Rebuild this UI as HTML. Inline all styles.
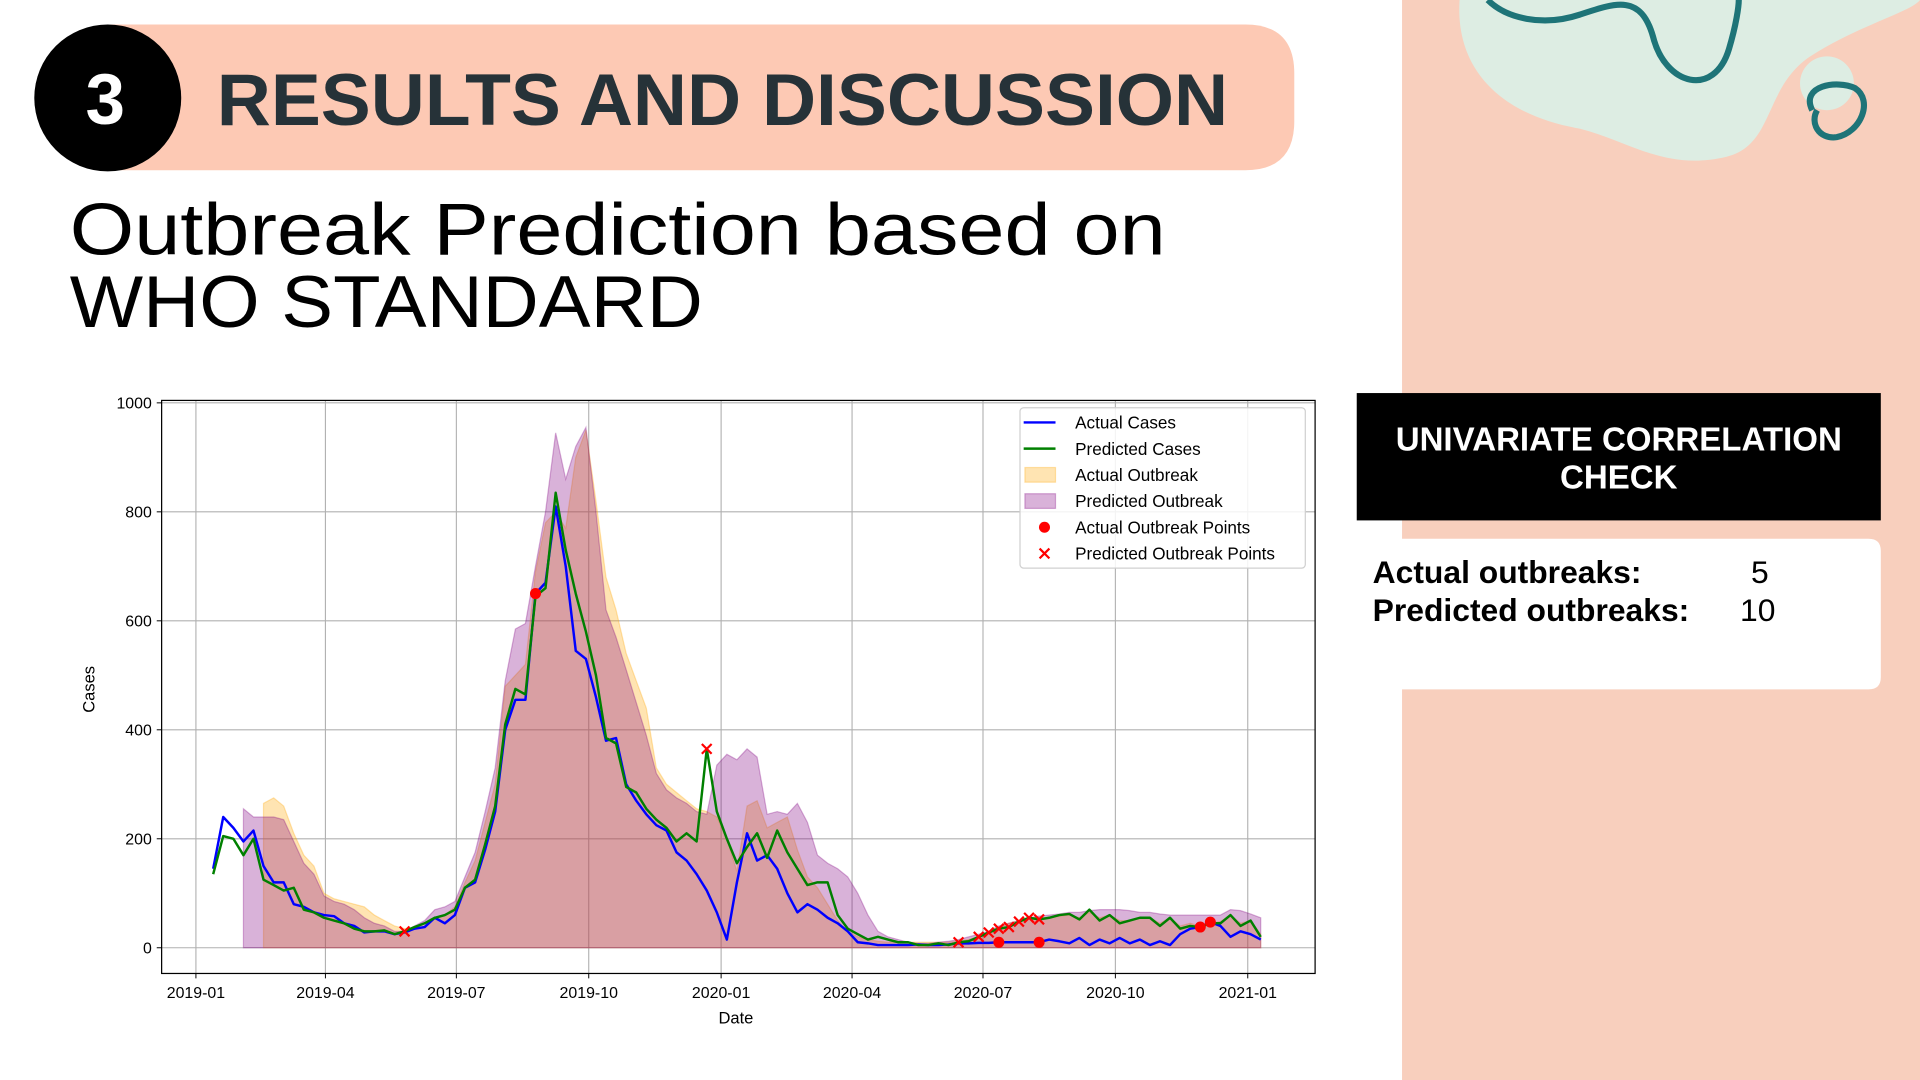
<!DOCTYPE html>
<html><head><meta charset="utf-8"><style>
html,body{margin:0;padding:0;background:#fff;overflow:hidden}
svg{display:block}
text{font-family:"Liberation Sans",sans-serif}
</style></head><body>
<svg id="slide" width="1920" height="1080" viewBox="0 0 1568 882" preserveAspectRatio="none" xmlns="http://www.w3.org/2000/svg">
<rect width="1568" height="882" fill="#ffffff"/>
<g>
<rect x="1145" y="0" width="423" height="882" fill="#f8cfbd"/>
<path d="M1192 0 C1188 60 1230 95 1290 105 C1330 115 1360 140 1410 128 C1450 118 1440 70 1480 45 C1520 20 1560 10 1568 0 Z" fill="#ddede3"/>
<circle cx="1492" cy="68" r="22" fill="#ddede3"/>
<path d="M1215 0 C1230 15 1260 22 1290 12 C1320 2 1340 -5 1350 30 C1360 70 1400 80 1412 40 C1418 20 1420 5 1420 0" fill="none" stroke="#1e7478" stroke-width="5"/>
<path d="M1480 90 C1470 70 1500 65 1515 72 C1530 82 1520 108 1500 112 C1485 114 1478 100 1484 90" fill="none" stroke="#1e7478" stroke-width="5"/>
<rect x="1108" y="321" width="428" height="104" fill="#000"/>
<text x="1322" y="368" text-anchor="middle" fill="#fff" font-size="27" font-weight="bold">UNIVARIATE CORRELATION</text>
<text x="1322" y="399" text-anchor="middle" fill="#fff" font-size="27" font-weight="bold">CHECK</text>
<path d="M1108 440 H1526 Q1536 440 1536 450 V553 Q1536 563 1526 563 H1108 Z" fill="#fff"/>
<text x="1121" y="476" font-size="26" font-weight="bold" fill="#000">Actual outbreaks:</text>
<text x="1430" y="476" font-size="26" fill="#000">5</text>
<text x="1121" y="507" font-size="26" font-weight="bold" fill="#000">Predicted outbreaks:</text>
<text x="1421" y="507" font-size="26" fill="#000">10</text>
</g>
<g>
<path d="M90 20 H1017 Q1057 20 1057 60 V99 Q1057 139 1017 139 H90 Z" fill="#fdc9b4"/>
<circle cx="88" cy="80" r="60" fill="#000"/>
<text x="86" y="101" text-anchor="middle" fill="#fff" font-size="58" font-weight="bold">3</text>
<text x="177" y="102" fill="#263238" font-size="60" font-weight="bold" textLength="826" lengthAdjust="spacingAndGlyphs">RESULTS AND DISCUSSION</text>
</g>
<text x="57" y="208" fill="#000" font-size="60" textLength="895" lengthAdjust="spacingAndGlyphs">Outbreak Prediction based on</text>
<text x="57" y="267" fill="#000" font-size="60" textLength="517" lengthAdjust="spacingAndGlyphs">WHO STANDARD</text>
<g id="chart"></g>
</svg>
<script>
const actualCases=[145,240,220,195,215,150,120,120,80,75,65,60,58,45,40,28,30,30,25,28,35,38,55,45,60,110,120,180,250,400,455,455,650,670,810,700,545,530,460,380,385,300,270,245,225,215,175,160,135,105,65,15,120,210,160,170,145,100,65,80,70,55,45,30,10,8,5,5,5,5,6,5,5,6,8,8,9,9,10,10,10,10,10,15,12,8,18,5,15,8,18,8,15,5,12,5,25,35,38,47,40,20,30,25,15];
const predictedCases=[135,205,200,170,200,125,115,105,110,70,65,55,50,45,35,30,30,32,25,30,38,45,55,60,70,110,125,190,260,410,475,465,645,660,835,730,650,580,500,385,375,295,285,255,235,220,195,210,195,365,250,200,155,185,210,165,215,175,145,115,120,120,60,35,25,15,20,15,10,10,5,5,8,5,10,12,20,28,35,38,48,55,52,55,60,62,52,70,50,60,45,50,55,55,40,55,35,40,38,45,45,60,40,50,20];
const actualOutbreak=[null,null,null,null,null,265,275,260,210,170,150,100,90,85,80,75,60,50,40,35,35,40,55,60,75,120,160,230,300,480,500,520,690,780,800,770,900,950,820,680,620,540,490,440,330,300,285,270,255,250,240,200,140,260,270,220,230,240,180,130,110,80,50,30,20,15,12,10,10,10,10,10,10,10,12,15,20,30,38,45,50,55,55,55,58,60,55,65,55,60,50,50,55,55,45,55,40,45,40,45,48,60,45,50,25];
const predictedOutbreak=[null,null,null,255,240,240,240,235,195,155,135,95,85,80,70,55,45,40,30,30,40,50,70,75,85,130,175,250,330,490,585,595,700,800,945,860,920,955,800,620,570,510,450,390,320,290,275,265,250,245,335,355,345,365,350,245,250,245,265,230,170,155,145,130,100,60,30,20,15,10,8,8,10,12,15,20,25,30,40,45,50,55,58,60,62,65,65,68,70,70,70,68,65,65,62,60,60,60,60,60,60,70,68,62,55];
const actualOutbreakIdx=[32,78,82,98,99];
const predictedOutbreakIdx=[19,49,74,76,77,78,79,80,81,82];
const yTicks=[0,200,400,600,800,1000];
const xTickLabels=["2019-01","2019-04","2019-07","2019-10","2020-01","2020-04","2020-07","2020-10","2021-01"];
const xTickDays=[0,90,181,273,365,456,547,639,731];

const NS="http://www.w3.org/2000/svg";
const g=document.getElementById('chart');
const L=132,R=1074,T=327,B=795;
const xDay=d=>160+d*1.1751;
const xIdx=i=>xDay(12+7*i);
const yV=v=>774-v*0.445;
function mk(tag,attrs,parent){const e=document.createElementNS(NS,tag);for(const k in attrs)e.setAttribute(k,attrs[k]);(parent||g).appendChild(e);return e;}
const bg=mk('rect',{x:L,y:T,width:R-L,height:B-T,fill:'#fff'});


xTickDays.forEach((d,k)=>{
  const x=xDay(d);
  const gl=mk('line',{x1:x,x2:x,y1:T,y2:B,stroke:'#b0b0b0','stroke-width':0.9});
  
  
  mk('line',{x1:x,x2:x,y1:B,y2:B+4,stroke:'#000','stroke-width':0.8});
  const t=mk('text',{x:x,y:815,'text-anchor':'middle','font-size':13,fill:'#000'});
  t.textContent=xTickLabels[k];
  
  
});
yTicks.forEach(v=>{
  const y=yV(v);
  const gl=mk('line',{x1:L,x2:R,y1:y,y2:y,stroke:'#b0b0b0','stroke-width':0.9});
  
  
  mk('line',{x1:L-4,x2:L,y1:y,y2:y,stroke:'#000','stroke-width':0.8});
  const t=mk('text',{x:L-8,y:y+4.5,'text-anchor':'end','font-size':13,fill:'#000'});
  t.textContent=v;
  
  
});
function area(arr,color,name){
  let pts=[],first=-1,last=-1;
  arr.forEach((v,i)=>{if(v!==null){if(first<0)first=i;last=i;pts.push(xIdx(i).toFixed(1)+','+yV(v).toFixed(1));}});
  const d='M'+xIdx(first).toFixed(1)+','+yV(0)+' L'+pts.join(' L')+' L'+xIdx(last).toFixed(1)+','+yV(0)+' Z';
  const p=mk('path',{d:d,fill:color,'fill-opacity':0.3,stroke:color,'stroke-opacity':0.3,'stroke-width':1});
  
  
}
area(actualOutbreak,'#ffa500','actual-outbreak-area');
area(predictedOutbreak,'#800080','predicted-outbreak-area');
function line(arr,color,name){
  const p=mk('polyline',{points:arr.map((v,i)=>xIdx(i).toFixed(1)+','+yV(v).toFixed(1)).join(' '),fill:'none',stroke:color,'stroke-width':2,'stroke-linejoin':'round'});
  
  
}
line(actualCases,'#0000ff','actual-cases-line');
line(predictedCases,'#008000','predicted-cases-line');
actualOutbreakIdx.forEach(i=>{
  const c=mk('circle',{cx:xIdx(i),cy:yV(actualCases[i]),r:4.5,fill:'#ff0000'});
  
  
});
predictedOutbreakIdx.forEach(i=>{
  const x=xIdx(i),y=yV(predictedCases[i]);
  const p=mk('path',{d:`M${x-4},${y-4}L${x+4},${y+4}M${x-4},${y+4}L${x+4},${y-4}`,stroke:'#ff0000','stroke-width':1.8});
  
  
});
mk('rect',{x:L,y:T,width:R-L,height:B-T,fill:'none',stroke:'#000','stroke-width':1});
const xt=mk('text',{x:601,y:836,'text-anchor':'middle','font-size':13.5,fill:'#000'});
xt.textContent='Date';


const yt=mk('text',{x:0,y:0,'text-anchor':'middle','font-size':13.5,fill:'#000',transform:'translate(77,563) rotate(-90)'});
yt.textContent='Cases';


// legend
const lg=mk('g',{});


mk('rect',{x:833,y:333,width:233,height:131,rx:3,fill:'#fff','fill-opacity':0.85,stroke:'#d0d0d0'},lg);
const legendLabels=['Actual Cases','Predicted Cases','Actual Outbreak','Predicted Outbreak','Actual Outbreak Points','Predicted Outbreak Points'];
legendLabels.forEach((lab,k)=>{
  const y=345+k*21.4;
  const e=mk('g',{},lg);
  
  
  if(k<2) mk('line',{x1:836,x2:862,y1:y,y2:y,stroke:k?'#008000':'#0000ff','stroke-width':2},e);
  else if(k<4) mk('rect',{x:837,y:y-6,width:25,height:12,fill:k==2?'#ffa500':'#800080','fill-opacity':0.3,stroke:k==2?'#ffa500':'#800080','stroke-opacity':0.3},e);
  else if(k==4) mk('circle',{cx:853,cy:y,r:4.5,fill:'#ff0000'},e);
  else mk('path',{d:`M849,${y-4}L857,${y+4}M849,${y+4}L857,${y-4}`,stroke:'#ff0000','stroke-width':1.8},e);
  const t=mk('text',{x:878,y:y+5,'font-size':14,fill:'#000'},e);
  t.textContent=lab;
});
</script>
</body></html>
